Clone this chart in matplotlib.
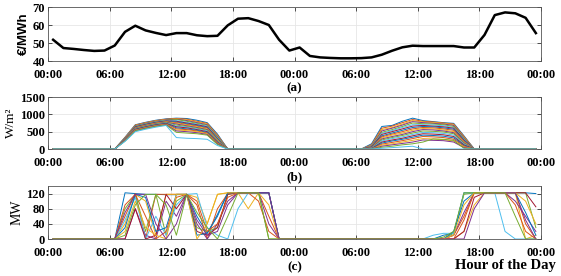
import numpy as np
import matplotlib
matplotlib.use('Agg')
import matplotlib.pyplot as plt

# hourly points sit at the middle of each hour over two days
hours = np.arange(48) + 0.5

price = [51.8, 47.2, 46.7, 46.1, 45.6, 45.8, 48.6, 56.2, 59.6, 57.0, 55.6, 54.4,
         55.5, 55.5, 54.3, 53.8, 54.0, 59.8, 63.5, 63.8, 62.2, 60.0, 51.8, 45.8,
         47.5, 42.8, 42.0, 41.7, 41.5, 41.5, 41.6, 42.0, 43.5, 45.7, 47.6, 48.5,
         48.3, 48.3, 48.3, 48.3, 47.5, 47.5, 54.5, 65.5, 67.0, 66.5, 64.0, 60.2]
price = price[:47] + [55.5]

# solar irradiance scenarios (W/m2), daylight hours only
# day 1: 07:30 .. 16:30
irr_day1 = [
    [340, 700, 770, 830, 870, 890, 880, 830, 760, 430],
    [330, 690, 760, 820, 860, 880, 860, 800, 740, 400],
    [320, 680, 750, 810, 850, 870, 840, 780, 720, 380],
    [310, 670, 740, 800, 840, 860, 820, 760, 700, 360],
    [300, 660, 730, 790, 830, 850, 800, 740, 680, 340],
    [300, 650, 720, 780, 820, 820, 770, 720, 660, 320],
    [290, 640, 710, 770, 810, 800, 750, 700, 640, 300],
    [290, 630, 700, 760, 800, 780, 730, 680, 620, 290],
    [280, 620, 690, 750, 790, 760, 710, 660, 600, 270],
    [280, 610, 680, 740, 780, 740, 690, 640, 580, 260],
    [270, 600, 670, 730, 770, 720, 670, 620, 560, 240],
    [270, 590, 660, 720, 760, 690, 650, 600, 540, 230],
    [260, 580, 650, 710, 750, 660, 630, 580, 520, 220],
    [260, 570, 640, 700, 740, 640, 610, 560, 500, 200],
    [250, 560, 630, 690, 730, 610, 580, 540, 480, 190],
    [250, 550, 620, 680, 720, 580, 560, 520, 460, 180],
    [240, 540, 610, 670, 710, 550, 530, 500, 440, 160],
    [240, 530, 600, 660, 700, 520, 500, 470, 420, 150],
    [230, 520, 590, 650, 690, 480, 460, 440, 400, 130],
    [220, 500, 570, 630, 680, 330, 310, 300, 280, 100],
]
# day 2: 07:30 .. 16:30
irr_day2 = [
    [150, 650, 680, 800, 890, 820, 790, 760, 740, 380],
    [120, 600, 660, 760, 850, 800, 780, 750, 720, 360],
    [100, 560, 620, 720, 820, 780, 760, 740, 700, 340],
    [90, 520, 600, 690, 790, 760, 740, 720, 680, 320],
    [80, 480, 560, 650, 750, 730, 720, 700, 650, 300],
    [70, 450, 530, 620, 700, 700, 690, 670, 620, 280],
    [60, 420, 500, 580, 660, 680, 660, 640, 600, 260],
    [50, 380, 460, 540, 620, 650, 640, 610, 570, 240],
    [40, 350, 430, 500, 580, 620, 610, 580, 540, 220],
    [30, 320, 400, 460, 540, 590, 580, 550, 500, 200],
    [30, 290, 360, 420, 500, 560, 550, 520, 470, 180],
    [20, 260, 330, 390, 460, 520, 510, 490, 440, 160],
    [20, 230, 300, 350, 420, 480, 470, 450, 400, 140],
    [10, 200, 260, 310, 380, 440, 430, 410, 360, 120],
    [10, 170, 230, 280, 340, 400, 390, 370, 320, 100],
    [0, 140, 190, 240, 300, 360, 350, 330, 280, 80],
    [0, 110, 150, 200, 250, 300, 290, 270, 230, 60],
    [0, 80, 120, 160, 200, 260, 250, 240, 200, 40],
    [0, 50, 80, 120, 150, 200, 290, 280, 250, 20],
    [0, 20, 40, 60, 80, 0, 0, 0, 0, 0],
]

# dispatched power scenarios (MW)
# day 1: 06:30 .. 22:30
mw_day1 = [
    [0, 122, 120, 118, 118, 117, 117, 118, 60, 15, 65, 122, 122, 122, 122, 122, 0],
    [0, 60, 120, 0, 118, 118, 118, 118, 90, 0, 80, 120, 122, 122, 122, 60, 0],
    [0, 40, 118, 100, 10, 118, 118, 118, 110, 40, 118, 122, 122, 80, 122, 122, 0],
    [0, 0, 80, 10, 0, 100, 60, 118, 40, 0, 40, 100, 122, 122, 122, 40, 0],
    [0, 80, 118, 20, 118, 10, 100, 118, 30, 20, 30, 118, 122, 122, 122, 0, 0],
    [0, 50, 110, 0, 60, 10, 90, 118, 120, 30, 10, 0, 80, 122, 122, 122, 0],
    [0, 0, 80, 0, 10, 118, 80, 118, 20, 10, 30, 118, 122, 122, 122, 122, 0],
    [0, 30, 118, 110, 20, 30, 118, 118, 10, 15, 60, 122, 122, 122, 122, 122, 0],
    [0, 90, 118, 60, 0, 20, 110, 118, 100, 20, 40, 110, 122, 122, 100, 20, 0],
    [0, 20, 100, 30, 10, 0, 118, 118, 0, 40, 118, 122, 122, 122, 122, 90, 0],
    [0, 70, 118, 118, 40, 0, 40, 118, 50, 10, 20, 90, 122, 122, 122, 122, 0],
    [0, 10, 90, 118, 118, 90, 10, 118, 70, 30, 0, 60, 122, 122, 122, 0, 0],
    [0, 100, 118, 40, 20, 0, 10, 118, 118, 0, 20, 122, 122, 0, 122, 122, 0],
    [0, 0, 40, 118, 60, 10, 118, 118, 0, 0, 100, 122, 122, 122, 60, 0, 0],
]
# day 2: 12:30 .. 23:30
mw_day2 = [
    [0, 0, 10, 15, 122, 122, 122, 122, 122, 122, 122, 120],
    [0, 0, 0, 10, 60, 122, 122, 122, 122, 122, 40, 0],
    [0, 0, 0, 0, 20, 90, 122, 122, 122, 122, 0, 10],
    [0, 0, 0, 10, 70, 122, 122, 122, 122, 100, 60, 20],
    [0, 0, 0, 15, 118, 122, 122, 122, 122, 122, 122, 30],
    [0, 10, 15, 15, 122, 122, 122, 122, 20, 0, 0, 0],
    [0, 0, 0, 0, 20, 110, 122, 122, 122, 122, 122, 85],
    [0, 0, 0, 20, 100, 122, 122, 122, 122, 122, 70, 10],
    [0, 0, 0, 0, 50, 122, 122, 122, 122, 90, 20, 0],
    [0, 0, 0, 10, 90, 122, 122, 122, 122, 122, 100, 40],
    [0, 0, 0, 0, 0, 80, 122, 122, 122, 122, 50, 0],
    [0, 0, 5, 20, 122, 122, 122, 122, 122, 60, 0, 0],
]

xticks = [0, 6, 12, 18, 24, 30, 36, 42, 48]
xticklabels = ['00:00', '06:00', '12:00', '18:00', '00:00', '06:00', '12:00', '18:00', '00:00']

matlab_colors = ['#0072BD', '#D95319', '#EDB120', '#7E2F8E', '#77AC30', '#4DBEEE', '#A2142F']

plt.rcParams['font.family'] = 'Liberation Serif'
plt.rcParams['font.weight'] = 'bold'
plt.rcParams['axes.prop_cycle'] = matplotlib.cycler(color=matlab_colors)


def full_day(seg1, start1, seg2, start2):
    y = np.zeros(48)
    y[start1:start1 + len(seg1)] = seg1
    y[start2:start2 + len(seg2)] = seg2
    return y


def style_axis(ax, ylim, yticks):
    ax.set_xlim(0, 48)
    ax.set_ylim(*ylim)
    ax.set_yticks(yticks)
    ax.set_xticks(xticks)
    ax.set_xticklabels(xticklabels)
    ax.grid(True, color='#e6e6e6', linewidth=0.6)
    ax.set_axisbelow(True)
    ax.tick_params(direction='in', top=True, right=True, length=3, width=0.6,
                   labelsize=9, color='#333333')
    ax.tick_params(axis='x', pad=6)
    ax.tick_params(axis='y', pad=2)
    for s in ax.spines.values():
        s.set_linewidth(0.6)
        s.set_color('#555555')


fig = plt.figure(figsize=(5.61, 2.76), dpi=100)
W, H = 561.0, 276.0
left, right = 48, 541

ax1 = fig.add_axes([left / W, 1 - 61 / H, (right - left) / W, 54 / H])
ax1.plot(hours, price, color='black', linewidth=1.8)
style_axis(ax1, (40, 70), [40, 50, 60, 70])
ax1.set_ylabel('€/MWh', family='Liberation Sans', fontweight='bold', fontsize=9.5, labelpad=2)
fig.text((left + right) / 2 / W, 1 - 88 / H, '(a)', ha='center', va='center', fontsize=9.5)

ax2 = fig.add_axes([left / W, 1 - 149 / H, (right - left) / W, 52 / H])
for s1, s2 in zip(irr_day1, irr_day2):
    ax2.plot(hours, full_day(s1, 7, s2, 31), linewidth=0.7)
style_axis(ax2, (0, 1500), [0, 500, 1000, 1500])
ax2.set_ylabel('W/m²', fontsize=9.5, labelpad=2)
fig.text((left + right) / 2 / W, 1 - 177 / H, '(b)', ha='center', va='center', fontsize=9.5)

ax3 = fig.add_axes([left / W, 1 - 239 / H, (right - left) / W, 53 / H])
for s1, s2 in zip(mw_day1, mw_day2):
    ax3.plot(hours, full_day(s1, 6, s2, 36), linewidth=0.7)
style_axis(ax3, (0, 140), [0, 40, 80, 120])
ax3.set_ylabel('MW', fontsize=10, labelpad=2)
fig.text((left + right) / 2 / W, 1 - 267 / H, '(c)', ha='center', va='center', fontsize=9.5)
fig.text(556 / W, 1 - 265 / H, 'Hour of the Day', ha='right', va='center', fontsize=10.5)

fig.savefig('out.png', dpi=100)
